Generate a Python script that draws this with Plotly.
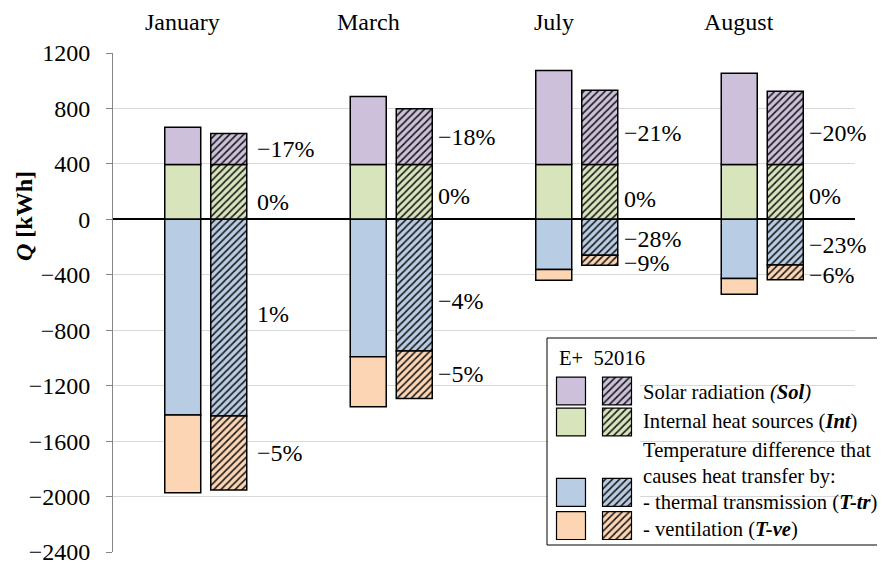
import plotly.graph_objects as go

# ---------------- data ----------------
months = ["January", "March", "July", "August"]

# E+ (plain bars)
sol_ep = [269, 490, 677, 658]
int_ep = [396, 396, 396, 396]
ttr_ep = [-1412, -992, -362, -427]
tve_ep = [-560, -360, -77, -113]

# 52016 (hatched bars)
sol_iso = [223, 402, 536, 528]
int_iso = [396, 396, 396, 396]
ttr_iso = [-1419, -950, -260, -329]
tve_iso = [-533, -343, -71, -106]

pct_sol = ["−17%", "−18%", "−21%", "−20%"]
pct_int = ["0%", "0%", "0%", "0%"]
pct_ttr = ["1%", "−4%", "−28%", "−23%"]
pct_tve = ["−5%", "−5%", "−9%", "−6%"]

y_ticks = [1200, 800, 400, 0, -400, -800, -1200, -1600, -2000, -2400]
y_ticktext = ["1200", "800", "400", "0", "−400", "−800", "−1200", "−1600", "−2000", "−2400"]

colors = {"sol": "#CCC0DA", "int": "#D8E4BC", "ttr": "#B8CCE4", "tve": "#FCD5B4"}

FONT = "Liberation Serif"

W, H = 885, 563
PAGE = 8  # default page margin around the figure
ML, MR, MT, MB = 105, 38, 45, 19
PW, PH = W - ML - MR, H - MT - MB


def px_x(sx):
    """screen x (page pixels) -> paper x"""
    return (sx - PAGE - ML) / PW


def px_y(sy):
    """screen y (page pixels) -> paper y"""
    return 1 - (sy - PAGE - MT) / PH


BAR_W = 0.194
OFF_PLAIN = -0.221
OFF_HATCH = 0.027


def pattern(color, hatched):
    if hatched:
        return dict(shape="/", fgcolor="#1a1a1a", bgcolor=color, size=5,
                    solidity=0.33, fillmode="replace")
    return dict(shape="")


fig = go.Figure()

series = [
    ("int", int_ep, [0] * 4, False),
    ("sol", sol_ep, int_ep, False),
    ("ttr", ttr_ep, [0] * 4, False),
    ("tve", tve_ep, ttr_ep, False),
    ("int", int_iso, [0] * 4, True),
    ("sol", sol_iso, int_iso, True),
    ("ttr", ttr_iso, [0] * 4, True),
    ("tve", tve_iso, ttr_iso, True),
]

for key, vals, base, hatched in series:
    fig.add_trace(go.Bar(
        x=months, y=vals, base=base,
        offset=OFF_HATCH if hatched else OFF_PLAIN, width=BAR_W,
        marker=dict(color=colors[key], line=dict(color="black", width=1.5),
                    pattern=pattern(colors[key], hatched)),
        showlegend=False, hoverinfo="skip",
    ))

# ---------------- legend swatches (own small axes) ----------------
leg_rows = {"sol": 0, "int": 1, "ttr": 3.27, "tve": 4.34}
for key, row in leg_rows.items():
    for col, hatched in [(0.5, False), (1.5, True)]:
        fig.add_trace(go.Bar(
            x=[col], y=[0.9], base=[row - 0.45], width=0.63,
            xaxis="x2", yaxis="y2",
            marker=dict(color=colors[key], line=dict(color="black", width=1.2),
                        pattern=pattern(colors[key], hatched)),
            showlegend=False, hoverinfo="skip",
        ))

annotations = []

# month titles (centered over the plain bar)
for i, m in enumerate(months):
    annotations.append(dict(
        x=i + OFF_PLAIN + BAR_W / 2, xref="x", y=px_y(22), yref="paper",
        text=m, showarrow=False, xanchor="center", yanchor="middle",
        font=dict(size=24, color="black", family=FONT)))

# percentage labels beside hatched bars (pixel nudges: down-positive)
label_x_gap = [8, 4, 4, 4]
label_sets = [
    (pct_sol, sol_iso, int_iso, [0, 0, 6, 5]),
    (pct_int, int_iso, [0] * 4, [10, 4, 7, 4]),
    (pct_ttr, ttr_iso, [0] * 4, [-4, 16, 2, 3]),
    (pct_tve, tve_iso, ttr_iso, [0, -1, 3, 3]),
]
for texts, vals, base, nudges in label_sets:
    for i in range(4):
        annotations.append(dict(
            x=i + OFF_HATCH + BAR_W, xref="x", y=base[i] + vals[i] / 2, yref="y",
            text=texts[i], showarrow=False, xanchor="left", yanchor="middle",
            xshift=label_x_gap[i], yshift=-nudges[i],
            font=dict(size=24, color="black", family=FONT)))

# y-axis title
annotations.append(dict(
    x=px_x(24), xref="paper", y=px_y(216), yref="paper",
    text="<b><i>Q</i> [kWh]</b>", textangle=-90, showarrow=False,
    xanchor="center", yanchor="middle",
    font=dict(size=24, color="black", family=FONT)))

# legend texts
leg_texts = [
    (557, 358, "E+\u00a0 52016"),
    (641, 392, "Solar radiation <i>(<b>Sol</b>)</i>"),
    (641, 421, "Internal heat sources (<b><i>Int</i></b>)"),
    (641, 450, "Temperature difference that"),
    (641, 476, "causes heat transfer by:"),
    (641, 502, "- thermal transmission (<b><i>T-tr</i></b>)"),
    (641, 529, "- ventilation (<b><i>T-ve</i></b>)"),
]
for lx, ly, t in leg_texts:
    annotations.append(dict(
        x=px_x(lx), xref="paper", y=px_y(ly), yref="paper", text=t,
        showarrow=False, xanchor="left", yanchor="middle",
        font=dict(size=20.6, color="black", family=FONT)))

shapes = [dict(type="rect", xref="paper", yref="paper",
               x0=px_x(547), x1=px_x(900), y0=px_y(545), y1=px_y(338),
               line=dict(color="black", width=1), fillcolor="rgba(0,0,0,0)")]

fig.update_layout(
    width=W, height=H,
    margin=dict(l=ML, r=MR, t=MT, b=MB, autoexpand=False),
    paper_bgcolor="white", plot_bgcolor="white",
    barmode="overlay",
    font=dict(family=FONT, size=24, color="black"),
    xaxis=dict(type="category", categoryorder="array", categoryarray=months,
               range=[-0.5, 3.5], showticklabels=False, showgrid=False,
               showline=False, zeroline=False, ticks=""),
    yaxis=dict(range=[-2400, 1200], tickvals=y_ticks, ticktext=y_ticktext,
               showgrid=True, gridcolor="#D9D9D9", gridwidth=1,
               zeroline=True, zerolinecolor="black", zerolinewidth=2,
               showline=True, linecolor="#868686", linewidth=1,
               ticks="outside", ticklen=6, tickcolor="#868686",
               ticklabelstandoff=11, automargin=False,
               tickfont=dict(size=24, family=FONT, color="black")),
    xaxis2=dict(domain=[px_x(548), px_x(640)], range=[0, 2], visible=False,
                anchor="y2", fixedrange=True),
    yaxis2=dict(domain=[px_y(543), px_y(374)], range=[4.903, -0.548],
                visible=False, anchor="x2", fixedrange=True),
    annotations=annotations,
    shapes=shapes,
)

fig.write_html("out.html")
